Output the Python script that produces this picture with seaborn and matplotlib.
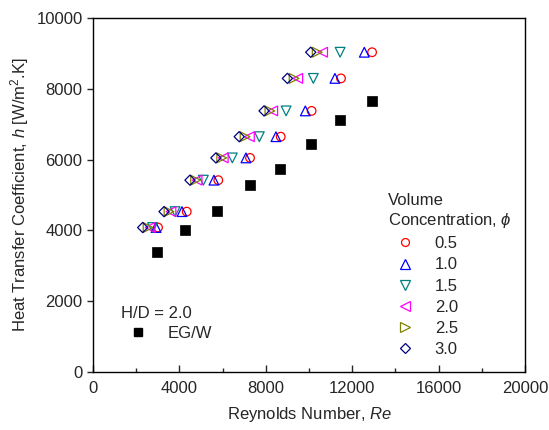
import pandas as pd
import matplotlib
matplotlib.use("Agg")
import matplotlib.pyplot as plt
from matplotlib.lines import Line2D
from matplotlib.ticker import MultipleLocator
import seaborn as sns

# heat transfer coefficient rows (shared by all concentrations)
h_rows = [4080, 4530, 5420, 6050, 6650, 7380, 8300, 9040]

# Reynolds number for each volume concentration
re_05 = [3010, 4340, 5800, 7270, 8690, 10120, 11480, 12920]
re_10 = [2920, 4120, 5600, 7080, 8470, 9830, 11200, 12560]
re_15 = [2760, 3800, 5110, 6450, 7700, 8940, 10200, 11440]
re_20 = [2640, 3610, 4820, 6030, 7240, 8320, 9480, 10630]
re_25 = [2550, 3520, 4750, 5960, 7040, 8190, 9310, 10380]
re_30 = [2300, 3290, 4490, 5690, 6770, 7920, 9000, 10080]

# base fluid EG/W
re_base = [2950, 4260, 5760, 7270, 8660, 10090, 11430, 12900]
h_base = [3390, 4010, 4560, 5280, 5740, 6440, 7120, 7670]

conc_labels = ['0.5', '1.0', '1.5', '2.0', '2.5', '3.0']
conc_re = [re_05, re_10, re_15, re_20, re_25, re_30]

colors = {'0.5': '#ff0000', '1.0': '#0000ff', '1.5': '#008080',
          '2.0': '#ff00ff', '2.5': '#808000', '3.0': '#000080'}
markers = {'0.5': 'o', '1.0': '^', '1.5': 'v', '2.0': '<', '2.5': '>', '3.0': 'D'}
msize = {'0.5': 6.2, '1.0': 7, '1.5': 7, '2.0': 7, '2.5': 7, '3.0': 5.2}

rows = []
for lab, re_vals in zip(conc_labels, conc_re):
    for r, h in zip(re_vals, h_rows):
        rows.append({'Re': r, 'h': h, 'conc': lab})
df = pd.DataFrame(rows)
df_base = pd.DataFrame({'Re': re_base, 'h': h_base})

sns.set_style('ticks')
plt.rcParams['font.family'] = ['Liberation Sans', 'DejaVu Sans']
plt.rcParams['mathtext.fontset'] = 'custom'
plt.rcParams['mathtext.rm'] = 'Liberation Sans'
plt.rcParams['mathtext.it'] = 'Liberation Sans:italic'

fig = plt.figure(figsize=(5.49, 4.30), dpi=100)
ax = fig.add_axes([0.1694, 0.1356, 0.7869, 0.8218])

for lab in conc_labels:
    sub = df[df['conc'] == lab]
    sns.scatterplot(data=sub, x='Re', y='h', ax=ax, marker=markers[lab],
                    s=msize[lab] ** 2, facecolors='none', edgecolor=colors[lab],
                    linewidth=0.9, legend=False)

sns.scatterplot(data=df_base, x='Re', y='h', ax=ax, marker='s', s=42,
                color='black', edgecolor='black', linewidth=0.5, legend=False)

ax.set_xlim(0, 20000)
ax.set_ylim(0, 10000)
ax.xaxis.set_major_locator(MultipleLocator(4000))
ax.xaxis.set_minor_locator(MultipleLocator(2000))
ax.yaxis.set_major_locator(MultipleLocator(2000))
ax.tick_params(axis='x', which='both', direction='in', labelsize=12, length=5,
               width=1.0, pad=7)
ax.tick_params(axis='x', which='minor', length=3)
ax.tick_params(axis='y', direction='out', labelsize=12, length=4, width=1.0)
for sp in ax.spines.values():
    sp.set_visible(True)
    sp.set_linewidth(1.0)
    sp.set_color('black')

ax.set_xlabel('Reynolds Number, $Re$', fontsize=12, labelpad=6)
ax.set_ylabel('Heat Transfer Coefficient, $h$ [W/m$^2$.K]', fontsize=12, labelpad=4)

handles = [Line2D([], [], linestyle='none', marker=markers[l], markersize=msize[l] - 0.5,
                  markerfacecolor='none', markeredgecolor=colors[l], markeredgewidth=0.9)
           for l in conc_labels]
leg1 = ax.legend(handles, conc_labels, title='Volume\nConcentration, $\\phi$',
                 loc='upper left', bbox_to_anchor=(0.683, 0.505), frameon=False,
                 fontsize=12, title_fontsize=12, alignment='left',
                 labelspacing=0.37, handletextpad=0.8, borderpad=0, borderaxespad=0)
ax.add_artist(leg1)

h_base_handle = Line2D([], [], linestyle='none', marker='s', markersize=6,
                       color='black')
ax.legend([h_base_handle], ['EG/W'], title='H/D = 2.0', loc='upper left',
          bbox_to_anchor=(0.065, 0.187), frameon=False, fontsize=12,
          title_fontsize=12, alignment='left', handletextpad=0.8,
          labelspacing=0.3, borderpad=0, borderaxespad=0)

fig.savefig('out.png', dpi=100)
